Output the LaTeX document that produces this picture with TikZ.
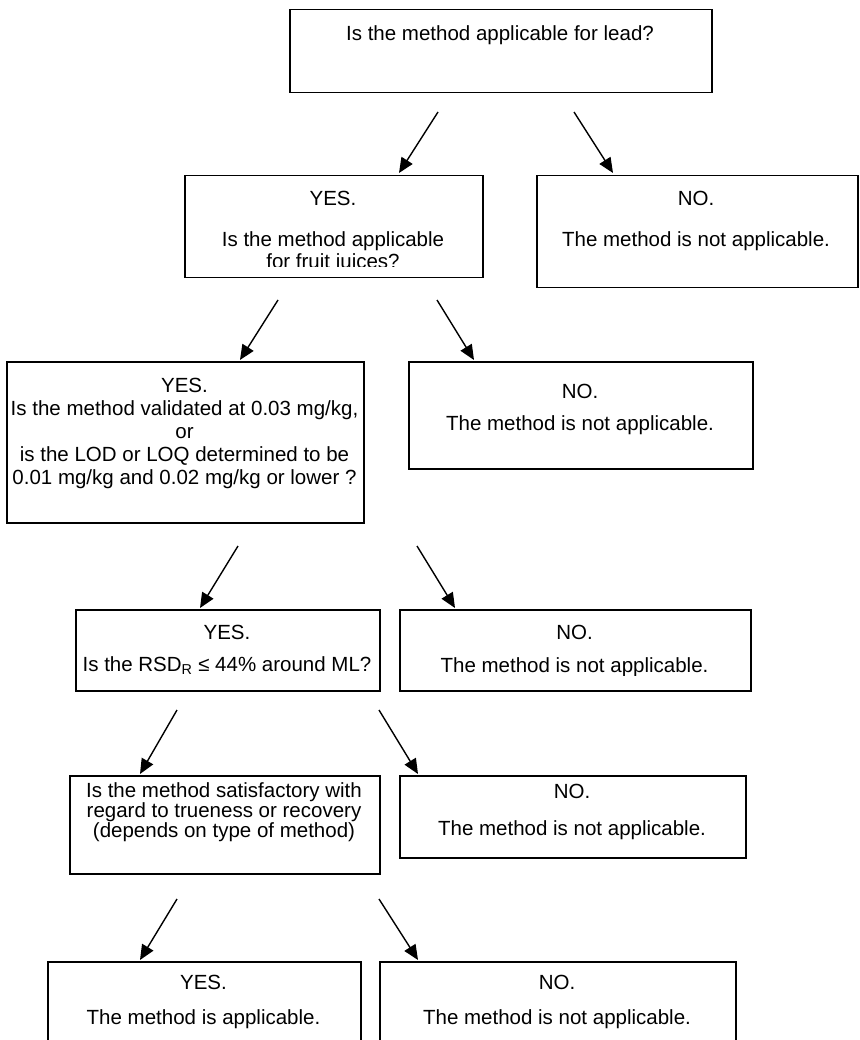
\documentclass[tikz,border=0pt]{standalone}
\usepackage{fontspec}
\setmainfont{Liberation Sans}
\usetikzlibrary{arrows.meta}
\tikzstyle{box} = [rectangle, draw=black, line width=1.5pt, anchor=north west, inner sep=0pt]
\tikzstyle{txt} = [anchor=base, inner sep=0pt, font=\fontsize{20.5}{24}\selectfont]
\tikzstyle{arrow} = [line width=1.4pt, -{Triangle[length=15pt,width=13pt]}]

\begin{document}
\begin{tikzpicture}[x=1pt,y=-1pt]
  \clip (0,0) rectangle (859,1040);
  % boxes
  \node (lead) [box, minimum width=422pt, minimum height=83pt] at (289,9) {};
  \node (juice) [box, minimum width=298pt, minimum height=102pt] at (184,175) {};
  \node (noa) [box, minimum width=321pt, minimum height=112pt] at (536,175) {};
  \node (valid) [box, minimum width=357pt, minimum height=161pt] at (6,361) {};
  \node (nob) [box, minimum width=344pt, minimum height=107pt] at (408,361) {};
  \node (rsd) [box, minimum width=304pt, minimum height=81pt] at (75,609) {};
  \node (noc) [box, minimum width=351pt, minimum height=81pt] at (399,609) {};
  \node (true) [box, minimum width=310pt, minimum height=98pt] at (69,775) {};
  \node (nod) [box, minimum width=346pt, minimum height=82pt] at (399,775) {};
  \node (yesf) [box, minimum width=313pt, minimum height=110pt] at (47,961) {};
  \node (nof) [box, minimum width=356pt, minimum height=110pt] at (379,961) {};

  % texts
  \node (leadq) [txt] at (500,40.5) {Is the method applicable for lead?};
  \node (juiceyes) [txt] at (333,205.5) {YES.};
  \node (juiceq) [txt] at (333,246.5) {Is the method applicable};
  \begin{scope}
    \clip (184,175) rectangle (482,267);
    \node (juiceq2) [txt] at (333,268.5) {for fruit juices?};
  \end{scope}
  \node (noano) [txt] at (696,205.5) {NO.};
  \node (noatxt) [txt] at (696,246.5) {The method is not applicable.};

  \node (validyes) [txt] at (184.5,392.5) {YES.};
  \node (validq1) [txt] at (184.5,415.5) {Is the method validated at 0.03 mg/kg,};
  \node (validq2) [txt] at (184.5,438.5) {or};
  \node (validq3) [txt] at (184.5,461.5) {is the LOD or LOQ determined to be};
  \node (validq4) [txt] at (184.5,484.5) {0.01 mg/kg and 0.02 mg/kg or lower ?};
  \node (nobno) [txt] at (580,398.5) {NO.};
  \node (nobtxt) [txt] at (580,430.5) {The method is not applicable.};

  \node (rsdyes) [txt] at (227,639.5) {YES.};
  \node (rsdq) [txt] at (227,671.5) {Is the RSD\textsubscript{R} ≤ 44\% around ML?};
  \node (nocno) [txt] at (574.5,639.5) {NO.};
  \begin{scope}
    \clip (399,609) rectangle (750,675);
    \node (noctxt) [txt] at (574.5,672.5) {The method is not applicable.};
  \end{scope}

  \node (trueq1) [txt] at (224,797.5) {Is the method satisfactory with};
  \node (trueq2) [txt] at (224,817.5) {regard to trueness or recovery};
  \node (trueq3) [txt] at (224,837.5) {(depends on type of method)};
  \node (nodno) [txt] at (572,798.5) {NO.};
  \node (nodtxt) [txt] at (572,835.5) {The method is not applicable.};

  \node (yesfyes) [txt] at (203.5,989.5) {YES.};
  \node (yesftxt) [txt] at (203.5,1024.5) {The method is applicable.};
  \node (nofno) [txt] at (557,989.5) {NO.};
  \node (noftxt) [txt] at (557,1024.5) {The method is not applicable.};

  % arrow ends
  \coordinate (a1) at (438,112);  \coordinate (b1) at (399,173);
  \coordinate (a2) at (574,112);  \coordinate (b2) at (613,173);
  \coordinate (a3) at (278,300);  \coordinate (b3) at (240,360);
  \coordinate (a4) at (437,300);  \coordinate (b4) at (474,360);
  \coordinate (a5) at (238,546);  \coordinate (b5) at (200,608);
  \coordinate (a6) at (417,546);  \coordinate (b6) at (455,608);
  \coordinate (a7) at (177,710);  \coordinate (b7) at (140,774);
  \coordinate (a8) at (379,710);  \coordinate (b8) at (418,774);
  \coordinate (a9) at (177,899);  \coordinate (b9) at (140,960);
  \coordinate (a10) at (379,899); \coordinate (b10) at (418,960);

  \draw [arrow] (a1) -- (b1);
  \draw [arrow] (a2) -- (b2);
  \draw [arrow] (a3) -- (b3);
  \draw [arrow] (a4) -- (b4);
  \draw [arrow] (a5) -- (b5);
  \draw [arrow] (a6) -- (b6);
  \draw [arrow] (a7) -- (b7);
  \draw [arrow] (a8) -- (b8);
  \draw [arrow] (a9) -- (b9);
  \draw [arrow] (a10) -- (b10);
\end{tikzpicture}
\end{document}
